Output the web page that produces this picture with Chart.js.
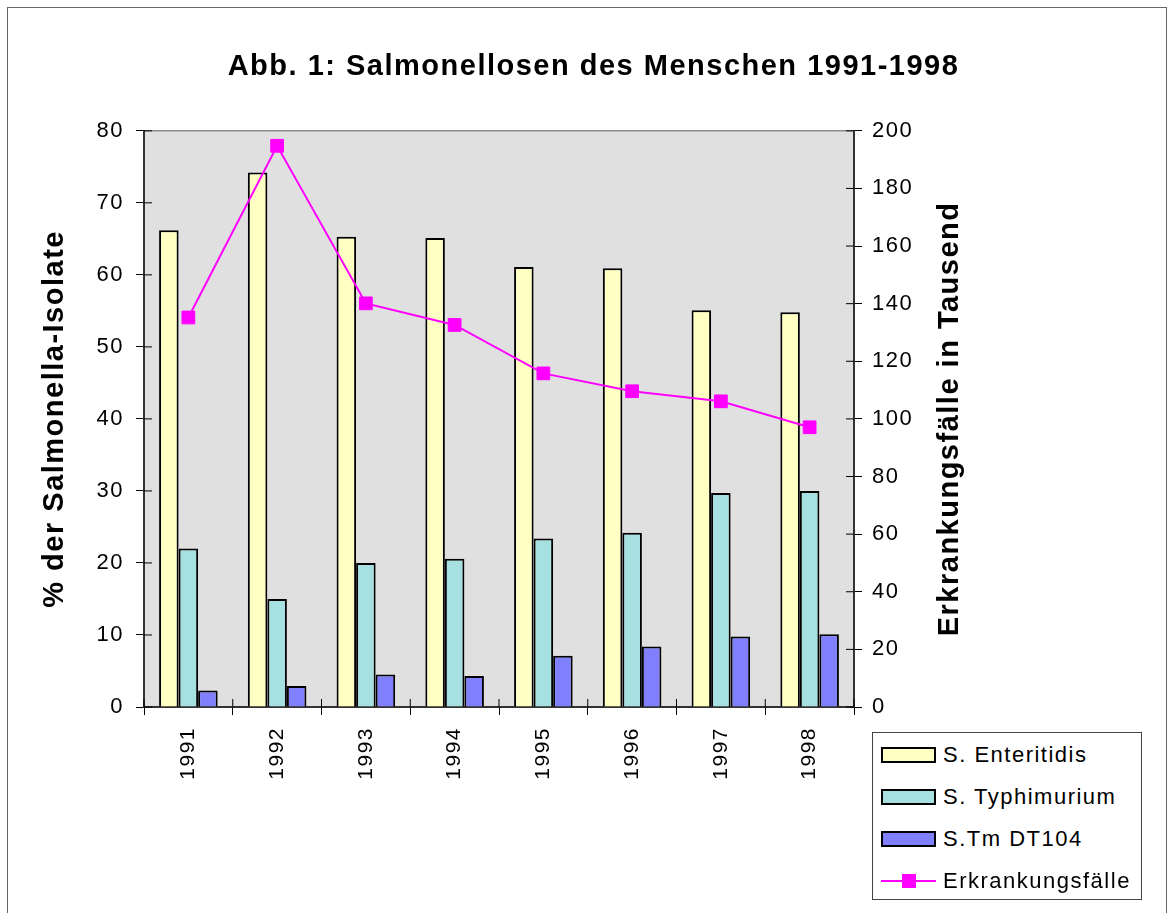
<!DOCTYPE html>
<html>
<head>
<meta charset="utf-8">
<script src="https://cdn.jsdelivr.net/npm/chart.js@4.4.1/dist/chart.umd.min.js"></script>
<style>
  body { margin: 0; background: #fff; }
  #wrap { position: relative; width: 1174px; height: 913px; overflow: hidden; }
  #frame { position: absolute; left: 7px; top: 7px; width: 1158px; height: 930px; border: 1px solid #666; }
  #salm-chart { position: absolute; left: 0; top: 0; }
  #legend {
    position: absolute; left: 872px; top: 732px; width: 270px; height: 168px;
    box-sizing: border-box; border: 1px solid #444; background: #fff;
    font-family: "Liberation Sans", Arial, sans-serif; font-size: 22px; letter-spacing: 1.5px; color: #000;
  }
  .row { position: absolute; left: 8px; height: 42px; display: flex; align-items: center; white-space: nowrap; }
  .swatch { width: 51px; height: 12px; border: 2px solid #000; margin-right: 7px; }
  .lineswatch { position: relative; width: 55px; height: 16px; margin-right: 7px; }
  .lineswatch .ln { position: absolute; left: 0; right: 0; top: 7px; height: 2px; background: #ff00ff; }
  .lineswatch .pt { position: absolute; left: 21px; top: 1px; width: 14px; height: 14px; background: #ff00ff; }
</style>
</head>
<body>
<div id="wrap">
  <div id="frame"></div>
  <canvas id="salm-chart" width="1174" height="913"></canvas>
  <div id="legend"></div>
</div>
<script>
const years = ['1991', '1992', '1993', '1994', '1995', '1996', '1997', '1998'];
const enteritidis = [66.2, 74.2, 65.3, 65.1, 61.1, 60.9, 55.1, 54.8];
const typhimurium = [22.0, 15.0, 20.0, 20.6, 23.4, 24.2, 29.7, 30.0];
const dt104 = [2.3, 2.9, 4.5, 4.3, 7.1, 8.4, 9.8, 10.1];
const cases = [135.2, 194.8, 140.1, 132.6, 115.8, 109.6, 106.1, 97.1];

const fontFamily = '"Liberation Sans", Arial, sans-serif';
Chart.defaults.font.family = fontFamily;
Chart.defaults.color = '#000';

// grey plot area, crossing tick marks and the right axis title
const plotDeco = {
  id: 'plotDeco',
  beforeUpdate(chart) {
    chart.ctx.letterSpacing = '1.5px';
  },
  beforeDraw(chart) {
    const { ctx, chartArea: a } = chart;
    ctx.letterSpacing = '1.5px';
    ctx.save();
    ctx.fillStyle = '#e0e0e0';
    ctx.fillRect(a.left, a.top, a.width, a.height);
    ctx.strokeStyle = '#8c8c8c';
    ctx.lineWidth = 1.5;
    ctx.beginPath();
    ctx.moveTo(a.left, a.top);
    ctx.lineTo(a.right, a.top);
    ctx.stroke();
    ctx.restore();
  },
  afterDraw(chart) {
    const { ctx, chartArea: a, scales } = chart;
    ctx.save();
    ctx.strokeStyle = '#000';
    ctx.lineWidth = 1;
    ctx.beginPath();
    scales.y.ticks.forEach((t, i) => {
      const y = scales.y.getPixelForTick(i);
      ctx.moveTo(a.left, y);
      ctx.lineTo(a.left + 8, y);
    });
    scales.y2.ticks.forEach((t, i) => {
      const y = scales.y2.getPixelForTick(i);
      ctx.moveTo(a.right - 8, y);
      ctx.lineTo(a.right, y);
    });
    const n = years.length;
    const w = scales.x.width / n;
    for (let i = 0; i <= n; i++) {
      const x = scales.x.left + i * w;
      ctx.moveTo(x, a.bottom - 8);
      ctx.lineTo(x, a.bottom);
    }
    ctx.stroke();

    ctx.font = 'bold 29px ' + fontFamily;
    ctx.fillStyle = '#000';
    ctx.textAlign = 'center';
    ctx.textBaseline = 'middle';
    ctx.translate(scales.y2.left + 96, (a.top + a.bottom) / 2);
    ctx.rotate(-Math.PI / 2);
    ctx.fillText('Erkrankungsfälle in Tausend', 0, 0);
    ctx.restore();
  }
};

const ctx = document.getElementById('salm-chart').getContext('2d');
const salmChart = new Chart(ctx, {
  type: 'bar',
  data: {
    labels: years,
    datasets: [
      {
        label: 'S. Enteritidis',
        data: enteritidis,
        backgroundColor: '#ffffc4',
        borderColor: '#000',
        borderWidth: 2,
        yAxisID: 'y',
        order: 1
      },
      {
        label: 'S. Typhimurium',
        data: typhimurium,
        backgroundColor: '#a6e0e0',
        borderColor: '#000',
        borderWidth: 2,
        yAxisID: 'y',
        order: 1
      },
      {
        label: 'S.Tm DT104',
        data: dt104,
        backgroundColor: '#8080ff',
        borderColor: '#000',
        borderWidth: 2,
        yAxisID: 'y',
        order: 1
      },
      {
        type: 'line',
        label: 'Erkrankungsfälle',
        data: cases,
        borderColor: '#ff00ff',
        borderWidth: 2,
        backgroundColor: '#ff00ff',
        pointStyle: 'rect',
        pointRadius: 9,
        pointBorderWidth: 1,
        pointBackgroundColor: '#ff00ff',
        pointBorderColor: '#ff00ff',
        tension: 0,
        yAxisID: 'y2',
        order: 0
      }
    ]
  },
  options: {
    responsive: false,
    animation: false,
    events: [],
    devicePixelRatio: 1,
    categoryPercentage: 0.66,
    barPercentage: 1,
    layout: { padding: { left: 13, right: 0, top: 0, bottom: 0 } },
    plugins: {
      legend: { display: false },
      tooltip: { enabled: false },
      title: {
        display: true,
        text: 'Abb. 1: Salmonellosen des Menschen 1991-1998',
        color: '#000',
        font: { size: 29, weight: 'bold' },
        padding: { top: 50, bottom: 46 }
      }
    },
    scales: {
      x: {
        grid: { offset: true, drawOnChartArea: false, tickLength: 8, color: '#000' },
        border: { color: '#333', width: 2 },
        ticks: { font: { size: 21 }, maxRotation: 90, minRotation: 90, padding: 12, autoSkip: false },
        afterFit: (s) => { s.height = 206; }
      },
      y: {
        position: 'left',
        min: 0,
        max: 80,
        ticks: { stepSize: 10, font: { size: 22 }, padding: 12 },
        grid: { drawOnChartArea: false, tickLength: 8, color: '#000' },
        border: { color: '#333', width: 2 },
        title: {
          display: true,
          text: '% der Salmonella-Isolate',
          font: { size: 29, weight: 'bold' },
          padding: { top: 25, bottom: 0 }
        },
        afterFit: (s) => { s.width = 131; }
      },
      y2: {
        position: 'right',
        min: 0,
        max: 200,
        ticks: { stepSize: 20, font: { size: 22 }, padding: 10 },
        grid: { drawOnChartArea: false, tickLength: 8, color: '#000' },
        border: { color: '#333', width: 2 },
        afterFit: (s) => { s.width = 320; }
      }
    }
  },
  plugins: [plotDeco]
});

// legend box sits below the right axis, so it is built by hand from the datasets
const legendEl = document.getElementById('legend');
salmChart.data.datasets.forEach((ds, i) => {
  const row = document.createElement('div');
  row.className = 'row';
  row.style.top = (1 + i * 42) + 'px';
  if (ds.type === 'line') {
    row.innerHTML = '<div class="lineswatch"><div class="ln"></div><div class="pt"></div></div>';
  } else {
    row.innerHTML = '<div class="swatch" style="background:' + ds.backgroundColor + '"></div>';
  }
  const txt = document.createElement('span');
  txt.textContent = ds.label;
  row.appendChild(txt);
  legendEl.appendChild(row);
});
</script>
</body>
</html>
